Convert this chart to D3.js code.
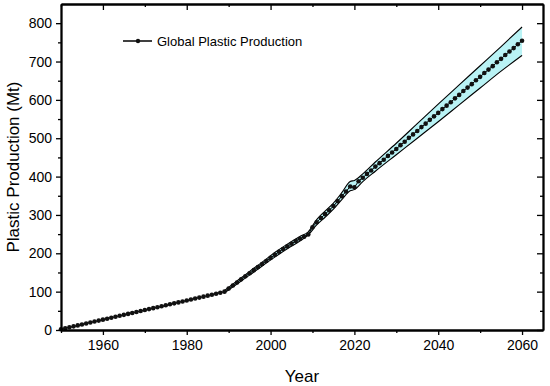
<!DOCTYPE html>
<html>
<head>
<meta charset="utf-8">
<script src="https://cdn.jsdelivr.net/npm/d3@7"></script>
<style>
    body { margin: 0; background: #fff; }
    svg { display: block; font-family: Arial, "Liberation Sans", sans-serif; }
    .Tick text { font-size: 14px; }
</style>
</head>
<body>
<div id="ChartWrapper"></div>
<script>
// Yearly values
const years = [
    1950, 1951, 1952, 1953, 1954, 1955, 1956, 1957, 1958, 1959,
    1960, 1961, 1962, 1963, 1964, 1965, 1966, 1967, 1968, 1969,
    1970, 1971, 1972, 1973, 1974, 1975, 1976, 1977, 1978, 1979,
    1980, 1981, 1982, 1983, 1984, 1985, 1986, 1987, 1988, 1989,
    1990, 1991, 1992, 1993, 1994, 1995, 1996, 1997, 1998, 1999,
    2000, 2001, 2002, 2003, 2004, 2005, 2006, 2007, 2008, 2009,
    2010, 2011, 2012, 2013, 2014, 2015, 2016, 2017, 2018, 2019,
    2020, 2021, 2022, 2023, 2024, 2025, 2026, 2027, 2028, 2029,
    2030, 2031, 2032, 2033, 2034, 2035, 2036, 2037, 2038, 2039,
    2040, 2041, 2042, 2043, 2044, 2045, 2046, 2047, 2048, 2049,
    2050, 2051, 2052, 2053, 2054, 2055, 2056, 2057, 2058, 2059,
    2060];
const production = [
    2, 4.5, 7, 9.5, 12, 14.5, 17, 19.5, 22, 24.5,
    27, 29.5, 32, 34.5, 37, 39.5, 42, 44.5, 47, 49.5,
    52, 54.5, 57, 59.5, 62, 64.5, 67, 69.5, 72, 74.5,
    77, 79.5, 82, 84.5, 87, 89.5, 92, 94.5, 97, 100,
    108, 116, 124, 132, 140, 148, 156, 164, 172, 180,
    188, 196, 204, 211, 218, 225, 232, 238, 243, 249,
    268, 281, 292, 302, 312, 323, 336, 349, 361, 374,
    372, 388, 397, 407, 416, 426, 435, 444, 454, 463,
    472, 482, 491, 501, 510, 519, 529, 538, 548, 557,
    566, 576, 585, 594, 604, 613, 623, 632, 641, 651,
    660, 670, 679, 688, 698, 707, 717, 726, 735, 745,
    754];

// Confidence band edges
const bandYears = [1989, 1992, 1995, 1998, 2001, 2004, 2007, 2009, 2011, 2013, 2015, 2017, 2019, 2020,
                   2022, 2025, 2030, 2035, 2040, 2045, 2050, 2055, 2060];
const bandUpper = [103, 128, 153, 177, 202, 224, 244, 256, 288, 310, 331, 358, 387, 390,
                   407, 438, 487, 538, 589, 639, 689, 739, 790];
const bandLower = [97, 120, 143, 167, 190, 212, 232, 248, 274, 294, 315, 340, 363, 366,
                   387, 414, 457, 500, 543, 587, 631, 675, 716];

const xTicks = [1960, 1980, 2000, 2020, 2040, 2060];
const xMinorTicks = [1950, 1970, 1990, 2010, 2030, 2050];
const yTicks = [0, 100, 200, 300, 400, 500, 600, 700, 800];
const yMinorTicks = [50, 150, 250, 350, 450, 550, 650, 750];

const Width = 550;
const Height = 386;
const Margin = {top: 4, right: 7, bottom: 56, left: 61};
const WidthInner = Width - Margin.left - Margin.right;
const HeightInner = Height - Margin.top - Margin.bottom;

let ScaleX = d3.scaleLinear().domain([1950, 2065]).range([0, WidthInner]);
let ScaleY = d3.scaleLinear().domain([0, 850]).range([HeightInner, 0]);

let Canvas = d3.select("#ChartWrapper").append("svg")
    .attr("width", Width).attr("height", Height);
let Plot = Canvas.append("g")
    .attr("transform", `translate(${Margin.left}, ${Margin.top})`);

// band
const Band = bandYears.map((yr, i) => ({year: yr, hi: bandUpper[i], lo: bandLower[i]}));
let Area = d3.area()
    .x(pp => ScaleX(pp.year))
    .y0(pp => ScaleY(pp.lo))
    .y1(pp => ScaleY(pp.hi))
    .curve(d3.curveMonotoneX);
Plot.append("path").attr("d", Area(Band))
    .attr("fill", "#b9f3f5").attr("stroke", "none");
let UpperLine = d3.line().x(pp => ScaleX(pp.year)).y(pp => ScaleY(pp.hi)).curve(d3.curveMonotoneX);
let LowerLine = d3.line().x(pp => ScaleX(pp.year)).y(pp => ScaleY(pp.lo)).curve(d3.curveMonotoneX);
Plot.append("path").attr("d", UpperLine(Band))
    .attr("fill", "none").attr("stroke", "#000").attr("stroke-width", 1.1);
Plot.append("path").attr("d", LowerLine(Band))
    .attr("fill", "none").attr("stroke", "#000").attr("stroke-width", 1.1);

// production line + markers
const Data = years.map((yr, i) => ({year: yr, value: production[i]}));
let Line = d3.line().x(pp => ScaleX(pp.year)).y(pp => ScaleY(pp.value));
Plot.append("path").attr("d", Line(Data))
    .attr("fill", "none").attr("stroke", "#000").attr("stroke-width", 1);
Plot.append("g").selectAll("circle").data(Data).join("circle")
    .attr("cx", pp => ScaleX(pp.year))
    .attr("cy", pp => ScaleY(pp.value))
    .attr("r", 2.3)
    .attr("fill", "#111");

// axes: outer ticks on bottom/left, inner ticks on top/right
function drawAxis(axis, transform)
{
    let g = Plot.append("g").attr("class", "Tick").attr("transform", transform).call(axis);
    g.select(".domain").attr("stroke-width", 1.8);
    g.selectAll(".tick line").attr("stroke-width", 1.3);
    return g;
}
drawAxis(d3.axisBottom(ScaleX).tickValues(xTicks).tickFormat(d3.format("d")).tickSize(5).tickPadding(5).tickSizeOuter(0),
         `translate(0, ${HeightInner})`);
drawAxis(d3.axisBottom(ScaleX).tickValues(xMinorTicks).tickFormat("").tickSize(3).tickSizeOuter(0),
         `translate(0, ${HeightInner})`);
drawAxis(d3.axisLeft(ScaleY).tickValues(yTicks).tickSize(5).tickPadding(4).tickSizeOuter(0), "translate(0, 0)");
drawAxis(d3.axisLeft(ScaleY).tickValues(yMinorTicks).tickFormat("").tickSize(3).tickSizeOuter(0), "translate(0, 0)");
drawAxis(d3.axisBottom(ScaleX).tickValues(xTicks).tickFormat("").tickSize(6).tickSizeOuter(0), "translate(0, 0)");
drawAxis(d3.axisBottom(ScaleX).tickValues(xMinorTicks).tickFormat("").tickSize(3).tickSizeOuter(0), "translate(0, 0)");
drawAxis(d3.axisLeft(ScaleY).tickValues(yTicks).tickFormat("").tickSize(6).tickSizeOuter(0), `translate(${WidthInner}, 0)`);
drawAxis(d3.axisLeft(ScaleY).tickValues(yMinorTicks).tickFormat("").tickSize(3).tickSizeOuter(0), `translate(${WidthInner}, 0)`);
Plot.selectAll(".Tick text").attr("fill", "#000");

// axis titles
Canvas.append("text").attr("x", Margin.left + WidthInner / 2).attr("y", 382)
    .attr("text-anchor", "middle").attr("font-size", 17).text("Year");
Canvas.append("text")
    .attr("transform", `translate(19, ${Margin.top + HeightInner / 2}) rotate(-90)`)
    .attr("text-anchor", "middle").attr("font-size", 17).text("Plastic Production (Mt)");

// legend
let Legend = Canvas.append("g");
Legend.append("line").attr("x1", 123).attr("x2", 152).attr("y1", 41).attr("y2", 41)
    .attr("stroke", "#000").attr("stroke-width", 1.5);
Legend.append("circle").attr("cx", 138).attr("cy", 41).attr("r", 2.2).attr("fill", "#111");
Legend.append("text").attr("x", 157).attr("y", 46).attr("font-size", 13).text("Global Plastic Production");
</script>
</body>
</html>
